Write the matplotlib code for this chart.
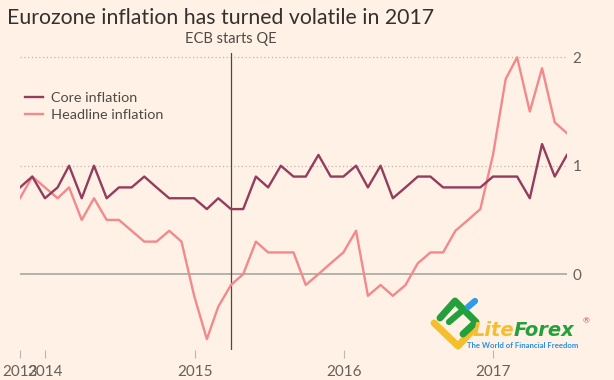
import pandas as pd
import matplotlib.pyplot as plt
from matplotlib.lines import Line2D

# Monthly data, Oct 2013 - Jun 2017 (plotted at month end)
months = pd.date_range("2013-10-31", periods=45, freq="ME")
core = [0.8, 0.9, 0.7, 0.8, 1.0, 0.7, 1.0, 0.7, 0.8, 0.8,
        0.9, 0.8, 0.7, 0.7, 0.7, 0.6, 0.7, 0.6, 0.6, 0.9,
        0.8, 1.0, 0.9, 0.9, 1.1, 0.9, 0.9, 1.0, 0.8, 1.0,
        0.7, 0.8, 0.9, 0.9, 0.8, 0.8, 0.8, 0.8, 0.9, 0.9,
        0.9, 0.7, 1.2, 0.9, 1.1]
headline = [0.7, 0.9, 0.8, 0.7, 0.8, 0.5, 0.7, 0.5, 0.5, 0.4,
            0.3, 0.3, 0.4, 0.3, -0.2, -0.6, -0.3, -0.1, 0.0, 0.3,
            0.2, 0.2, 0.2, -0.1, 0.0, 0.1, 0.2, 0.4, -0.2, -0.1,
            -0.2, -0.1, 0.1, 0.2, 0.2, 0.4, 0.5, 0.6, 1.1, 1.8,
            2.0, 1.5, 1.9, 1.4, 1.3]
x_tick_dates = [months[0], pd.Timestamp("2014-01-01"), pd.Timestamp("2015-01-01"),
                pd.Timestamp("2016-01-01"), pd.Timestamp("2017-01-01")]
x_tick_labels = ["2013", "2014", "2015", "2016", "2017"]
y_ticks = [0, 1, 2]
qe_date = pd.Timestamp("2015-03-31")

bg = "#FFF1E5"
core_color = "#943B5E"
head_color = "#F2898C"
text_color = "#4F4A46"

plt.rcParams["font.family"] = ["Lato", "DejaVu Sans"]

fig = plt.figure(figsize=(6.14, 3.8), dpi=100, facecolor=bg)
ax = fig.add_axes([20 / 614, 30 / 380, 547 / 614, 297 / 380])
ax.set_facecolor(bg)

# grid lines
for y in y_ticks:
    if y == 0:
        ax.axhline(y, color="#9BA39A", lw=1.1, zorder=1)
    else:
        ax.axhline(y, color="#BDB6AE", lw=0.9, ls=(0, (1, 2)), zorder=1)

# ECB QE marker
ax.axvline(qe_date, color="#4D4845", lw=0.9, zorder=2)
ax.text(qe_date, 2.1, "ECB starts QE", ha="center", va="bottom",
        fontsize=10.5, color=text_color)

ax.plot(months, headline, color=head_color, lw=1.7, zorder=3)
ax.plot(months, core, color=core_color, lw=1.7, zorder=4)

ax.set_xlim(months[0], months[-1])
ax.set_ylim(-0.70, 2.04)

for s in ax.spines.values():
    s.set_visible(False)

ax.set_xticks(x_tick_dates)
ax.set_xticklabels(x_tick_labels)
ax.tick_params(axis="x", length=6, width=0.8, color="#BDB6AE", pad=5,
               labelsize=11, labelcolor="#66605C")
ax.set_yticks(y_ticks)
ax.set_yticklabels([str(v) for v in y_ticks])
ax.yaxis.tick_right()
ax.tick_params(axis="y", length=0, pad=4, labelsize=11, labelcolor="#66605C")

# legend
handles = [Line2D([], [], color=core_color, lw=1.7),
           Line2D([], [], color=head_color, lw=1.7)]
ax.legend(handles, ["Core inflation", "Headline inflation"], loc="upper left",
          bbox_to_anchor=(-0.002, 0.89), frameon=False, fontsize=10.4,
          handlelength=1.3, handletextpad=0.55, labelspacing=0.4,
          labelcolor=text_color, borderaxespad=0)

# title
fig.text(7 / 614, 1 - 18 / 380, "Eurozone inflation has turned volatile in 2017",
         ha="left", va="center", fontsize=15.3, color="#33302E")

# watermark logo (approximate)
def fl(xs, ys, color, lw):
    fig.add_artist(Line2D([x / 614 for x in xs], [1 - y / 380 for y in ys],
                          color=color, lw=lw, solid_capstyle="round",
                          solid_joinstyle="round"))

fl([434, 458, 472], [323, 346, 331], "#F4BE2C", 5)
fl([440, 455, 476, 463], [318, 301, 322, 334], "#23A03C", 5)
fl([449, 463], [322, 310], "#23A03C", 4.5)
fl([468, 475], [307, 301], "#2C9BE8", 4.5)
fig.text(473 / 614, 1 - 330 / 380, "Lite", fontsize=14, fontweight="bold",
         style="italic", family="DejaVu Sans", color="#F4BE2C",
         va="center", ha="left")
fig.text(514 / 614, 1 - 330 / 380, "Forex", fontsize=14, fontweight="bold",
         style="italic", family="DejaVu Sans", color="#23A03C",
         va="center", ha="left")
fig.text(586 / 614, 1 - 321 / 380, "\u00ae", fontsize=6, color="#E0413A",
         va="center", ha="center")
fig.text(467 / 614, 1 - 345 / 380, "The World of Financial Freedom", fontsize=5.6,
         fontweight="bold", color="#2C8FE0", va="center", ha="left")

fig.savefig("out.png", dpi=100, facecolor=bg)
